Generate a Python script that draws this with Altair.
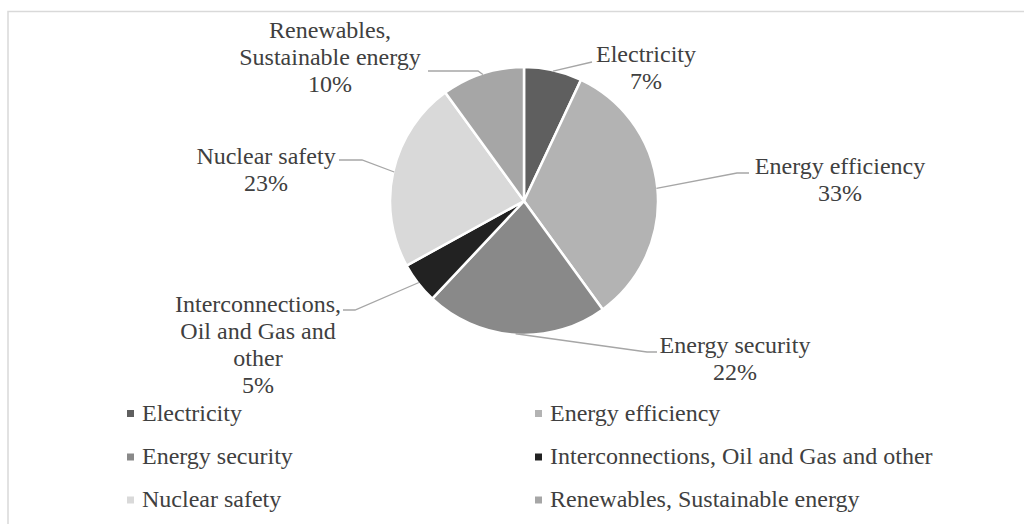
import math
import altair as alt
import pandas as pd

# ---- data ----
categories = [
    "Electricity",
    "Energy efficiency",
    "Energy security",
    "Interconnections, Oil and Gas and other",
    "Nuclear safety",
    "Renewables, Sustainable energy",
]
values = [7, 33, 22, 5, 23, 10]
colors = ["#5f5f5f", "#b3b3b3", "#898989", "#222222", "#d9d9d9", "#a6a6a6"]
label_lines = [
    "Electricity",
    "Energy efficiency",
    "Energy security",
    "Interconnections,\nOil and Gas and\nother",
    "Nuclear safety",
    "Renewables,\nSustainable energy",
]

# ---- layout ----
pie_cx, pie_cy, pie_r = 524, 201, 134
label_x = [646, 840, 735, 258, 266, 330]
label_y = [62, 174, 353, 312, 164, 38]
leader_bends = [
    [(592, 62)],
    [(737, 173), (749, 173)],
    [(647, 352), (657, 352)],
    [(355, 310), (343, 310)],
    [(362, 160), (339, 160)],
    [(478, 71), (428, 71)],
]
legend_col_x = [130.5, 538.5]
legend_row_y = [413.5, 457, 500]
FONT = "Liberation Serif, Times New Roman, serif"
TEXT_COLOR = "#404040"

total = sum(values)
pie_rows, lead_rows, lab_rows, leg_rows = [], [], [], []
cum = 0
for i, (c, v) in enumerate(zip(categories, values)):
    pie_rows.append(dict(cat=c, value=v, idx=i))
    mid = (cum + v / 2) / total * 2 * math.pi
    cum += v
    ex = pie_cx + (pie_r - 1) * math.sin(mid)
    ey = pie_cy - (pie_r - 1) * math.cos(mid)
    pts = [(ex, ey)] + leader_bends[i]
    for j, (px, py) in enumerate(pts):
        lead_rows.append(dict(cat=c, seq=j, px=px, py=py))
    lab_rows.append(dict(cat=c, text=label_lines[i] + "\n" + f"{round(v / total * 100)}%",
                         lx=label_x[i], ly=label_y[i]))
    sx = legend_col_x[i % 2]
    sy = legend_row_y[i // 2]
    leg_rows.append(dict(cat=c, sx=sx, sy=sy, tx=sx + 11.5))

pie_df = pd.DataFrame(pie_rows)
lead_df = pd.DataFrame(lead_rows)
lab_df = pd.DataFrame(lab_rows)
leg_df = pd.DataFrame(leg_rows)

color_scale = alt.Scale(domain=categories, range=colors)

frame = alt.Chart(pd.DataFrame({"a": [0]})).mark_rect(
    fillOpacity=0, stroke="#d9d9d9", strokeWidth=1.5
).encode(x=alt.value(8), x2=alt.value(1040), y=alt.value(11.5), y2=alt.value(560))

pie = alt.Chart(pie_df).mark_arc(outerRadius=pie_r, stroke="white", strokeWidth=2.5).encode(
    theta=alt.Theta("value:Q", stack=True),
    color=alt.Color("cat:N", scale=color_scale, legend=None),
    order=alt.Order("idx:Q"),
    x=alt.value(pie_cx),
    y=alt.value(pie_cy),
)

leaders = alt.Chart(lead_df).mark_line(color="#a6a6a6", strokeWidth=1.3).encode(
    x=alt.X("px:Q", scale=None, axis=None),
    y=alt.Y("py:Q", scale=None, axis=None),
    detail="cat:N",
    order="seq:Q",
)

labels = alt.Chart(lab_df).mark_text(
    font=FONT, fontSize=24, color=TEXT_COLOR, align="center",
    baseline="alphabetic", lineBreak="\n", lineHeight=27,
).encode(
    x=alt.X("lx:Q", scale=None, axis=None),
    y=alt.Y("ly:Q", scale=None, axis=None),
    text="text:N",
)

leg_sym = alt.Chart(leg_df).mark_square(size=49, opacity=1, strokeWidth=0).encode(
    x=alt.X("sx:Q", scale=None, axis=None),
    y=alt.Y("sy:Q", scale=None, axis=None),
    color=alt.Color("cat:N", scale=color_scale, legend=None),
)

leg_txt = alt.Chart(leg_df).mark_text(
    font=FONT, fontSize=24, color=TEXT_COLOR, align="left", baseline="middle",
).encode(
    x=alt.X("tx:Q", scale=None, axis=None),
    y=alt.Y("sy:Q", scale=None, axis=None),
    text="cat:N",
)

chart = alt.layer(frame, pie, leaders, labels, leg_sym, leg_txt).properties(
    width=1024, height=524, padding=0,
    autosize=alt.AutoSizeParams(type="none"),
).configure_view(stroke=None)

chart.save("out.html", embed_options={"renderer": "svg", "actions": False})
